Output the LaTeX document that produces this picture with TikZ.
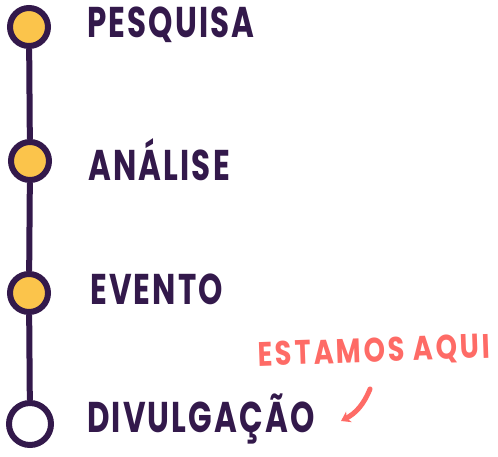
\documentclass[tikz,border=0pt]{standalone}
\usepackage{fontspec}
\setmainfont{Poppins}
\newfontfamily\stagefont[LetterSpace=7]{Poppins}
\newfontfamily\notefont[LetterSpace=10]{Poppins}
\usetikzlibrary{arrows.meta}
\definecolor{ink}{HTML}{33194B}
\definecolor{sun}{HTML}{FBC44B}
\definecolor{coral}{HTML}{FE6B66}
\begin{document}
\begin{tikzpicture}[x=1pt,y=-1pt,
  dot/.style={circle, draw=ink, line width=6pt, inner sep=0pt, minimum size=38pt},
  done/.style={dot, fill=sun},
  todo/.style={dot, fill=white, minimum size=42pt},
  stage/.style={anchor=west, text=ink, inner sep=0pt, font=\stagefont\fontsize{43}{45}\selectfont\bfseries},
  note/.style={anchor=west, text=coral, inner sep=0pt, font=\notefont\fontsize{34}{36}\selectfont\bfseries},
  link/.style={draw=ink, line width=6pt},
]
\useasboundingbox (0,0) rectangle (498,456);
\node[done] (c1) at (29,27) {};
\node[done] (c2) at (30,161) {};
\node[done] (c3) at (29,293) {};
\node[todo] (c4) at (30,424) {};
\draw[link] (c1) -- (c2);
\draw[link] (c2) -- (c3);
\draw[link] (c3) -- (c4);
\node[stage] (t1) at (87,25) {\scalebox{0.72}[1]{PESQUISA}};
\node[stage] (t2) at (88,160) {\scalebox{0.72}[1]{ANÁLISE}};
\node[stage] (t3) at (90,289) {\scalebox{0.72}[1]{EVENTO}};
\node[stage] (t4) at (87,419) {\scalebox{0.72}[1]{DIVULGAÇÃO}};
\node[note, rotate=2] (n) at (258,356) {\scalebox{0.8}[1]{ESTAMOS AQUI}};
\coordinate (a0) at (370,389);
\coordinate (a1) at (341,421);
\draw[coral, line width=5pt, line cap=round, -{Stealth[length=9pt,width=12pt]}] (a0) to[bend left=20] (a1);
\end{tikzpicture}
\end{document}
